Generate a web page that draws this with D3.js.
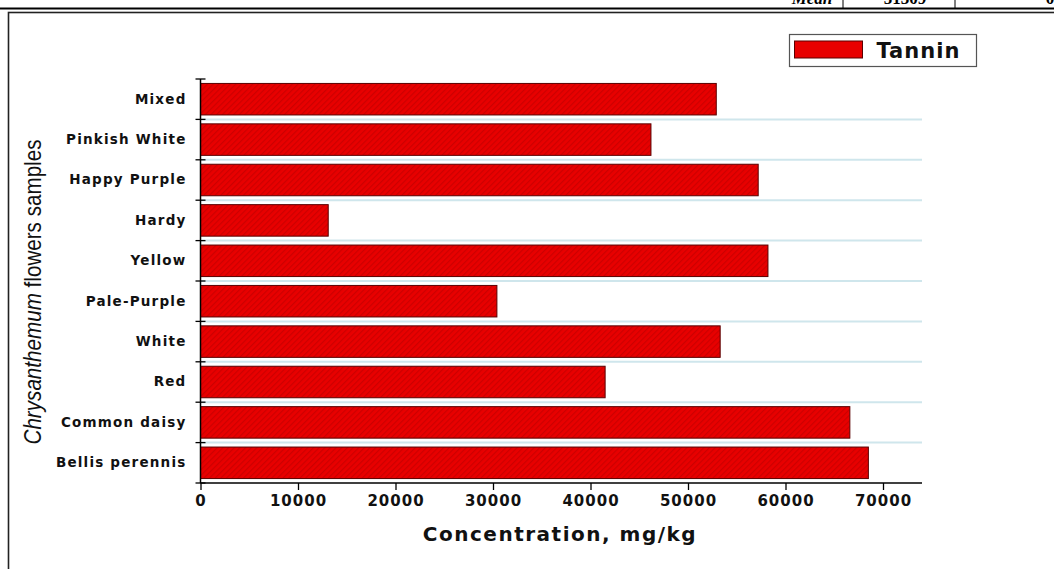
<!DOCTYPE html>
<html>
<head>
<meta charset="utf-8">
<script src="https://cdn.jsdelivr.net/npm/d3@7"></script>
<style>
  body { margin: 0; background: #fff; }
  svg { display: block; }
</style>
</head>
<body>
<div id="grafica"></div>
<script>
// datos
muestras = ['Mixed', 'Pinkish White', 'Happy Purple', 'Hardy', 'Yellow',
            'Pale-Purple', 'White', 'Red', 'Common daisy', 'Bellis perennis']
tanino   = [52900, 46200, 57200, 13100, 58200, 30400, 53300, 41500, 66600, 68500]
xTicks   = [0, 10000, 20000, 30000, 40000, 50000, 60000, 70000]
serie    = 'Tannin'

ancho_total = 1054
alto_total  = 569
margin = { left: 200.5, right: 132, top: 79, bottom: 86 }
ancho = ancho_total - margin.left - margin.right
alto  = alto_total - margin.top - margin.bottom

fuente = 'DejaVu Sans, Verdana, sans-serif'

svg = d3.select('#grafica')
  .append('svg')
  .attr('width', ancho_total)
  .attr('height', alto_total)

// relleno rayado de las barras
defs = svg.append('defs')
pat = defs.append('pattern')
  .attr('id', 'rayas')
  .attr('patternUnits', 'userSpaceOnUse')
  .attr('width', 4)
  .attr('height', 4)
  .attr('patternTransform', 'rotate(45)')
pat.append('rect').attr('width', 4).attr('height', 4).attr('fill', '#e80000')
pat.append('rect').attr('width', 1.2).attr('height', 4).attr('fill', '#cc0000')

// cabecera de la tabla de la pagina (cortada)
svg.append('line')
  .attr('x1', 0).attr('x2', ancho_total)
  .attr('y1', 8.5).attr('y2', 8.5)
  .attr('stroke', '#000').attr('stroke-width', 2)
;[843, 955].forEach((xx) => {
  svg.append('line')
    .attr('x1', xx).attr('x2', xx).attr('y1', 0).attr('y2', 8)
    .attr('stroke', '#000').attr('stroke-width', 1)
})
cab = [['Mean', 812, 'italic'], ['51309', 905, 'normal'], ['0', 1050, 'normal']]
cab.forEach((c) => {
  svg.append('text')
    .attr('x', c[1]).attr('y', 4)
    .attr('text-anchor', 'middle')
    .attr('font-family', 'Liberation Serif, serif')
    .attr('font-weight', 'bold')
    .attr('font-style', c[2])
    .attr('font-size', '17px')
    .text(c[0])
})

// marco de la figura
svg.append('rect')
  .attr('x', 8.5).attr('y', 12.5)
  .attr('width', 1100).attr('height', 600)
  .attr('fill', 'none')
  .attr('stroke', '#222').attr('stroke-width', 1.6)

g = svg.append('g')
  .attr('transform', `translate(${margin.left}, ${margin.top})`)

x = d3.scaleLinear().domain([0, 74000]).range([0, ancho])
y = d3.scaleBand().domain(muestras).range([0, alto]).paddingInner(0.22).paddingOuter(0.11)

// lineas guia entre categorias
fronteras = d3.range(1, muestras.length)
g.selectAll('.guia')
  .data(fronteras)
  .enter()
  .append('line')
  .attr('x1', 0).attr('x2', ancho)
  .attr('y1', (d) => d * y.step()).attr('y2', (d) => d * y.step())
  .attr('stroke', '#cfe6ec').attr('stroke-width', 2)

// barras
g.selectAll('.barra')
  .data(muestras)
  .enter()
  .append('rect')
  .attr('x', 0)
  .attr('y', (d) => y(d))
  .attr('width', (d, i) => x(tanino[i]))
  .attr('height', y.bandwidth())
  .attr('fill', 'url(#rayas)')
  .attr('stroke', '#5a0000')
  .attr('stroke-width', 1)

// eje X
xGroup = g.append('g').attr('transform', `translate(0, ${alto})`)
xGroup.call(d3.axisBottom(x).tickValues(d3.range(0, 74000, 2000)).tickSize(3).tickFormat(''))
xGroup.call(d3.axisBottom(x).tickValues(xTicks).tickSize(7).tickPadding(5).tickFormat(d3.format('d')))
xGroup.selectAll('.domain').remove()
xGroup.append('line')
  .attr('x1', 0).attr('x2', ancho).attr('y1', 0).attr('y2', 0)
  .attr('stroke', '#000').attr('stroke-width', 1.5)
xGroup.selectAll('.tick line').attr('stroke-width', 1.3)
xGroup.selectAll('text')
  .attr('fill', '#111')
  .attr('font-family', fuente)
  .attr('font-weight', 'bold')
  .attr('font-size', '15px')
  .style('letter-spacing', '1px')

// eje Y
yGroup = g.append('g')
yGroup.call(d3.axisLeft(y).tickSize(0).tickPadding(14))
yGroup.selectAll('.domain').remove()
yGroup.append('line')
  .attr('x1', 0).attr('x2', 0).attr('y1', 0).attr('y2', alto)
  .attr('stroke', '#000').attr('stroke-width', 1.5)
yGroup.selectAll('.frontera')
  .data(d3.range(0, muestras.length + 1))
  .enter()
  .append('line')
  .attr('x1', -5).attr('x2', 5)
  .attr('y1', (d) => d * y.step()).attr('y2', (d) => d * y.step())
  .attr('stroke', '#000').attr('stroke-width', 1.3)
yGroup.selectAll('text')
  .attr('fill', '#111')
  .attr('font-family', fuente)
  .attr('font-weight', 'bold')
  .attr('font-size', '13.5px')
  .style('letter-spacing', '1.2px')

// titulos de ejes
svg.append('text')
  .attr('x', 560).attr('y', 541)
  .attr('text-anchor', 'middle')
  .attr('font-family', fuente)
  .attr('font-weight', 'bold')
  .attr('font-size', '20px')
  .attr('fill', '#111')
  .style('letter-spacing', '1.5px')
  .text('Concentration, mg/kg')

yTitulo = svg.append('text')
  .attr('transform', 'translate(41, 292) rotate(-90)')
  .attr('text-anchor', 'middle')
  .attr('font-family', 'Liberation Sans, Arial, sans-serif')
  .attr('font-size', '24px')
  .attr('fill', '#111')
  .attr('textLength', 305)
  .attr('lengthAdjust', 'spacingAndGlyphs')
yTitulo.append('tspan').attr('font-style', 'italic').text('Chrysanthemum')
yTitulo.append('tspan').text(' flowers samples')

// leyenda
leyenda = svg.append('g').attr('transform', 'translate(789.5, 34.5)')
leyenda.append('rect')
  .attr('width', 187).attr('height', 32)
  .attr('fill', '#fff').attr('stroke', '#555').attr('stroke-width', 1.2)
leyenda.append('rect')
  .attr('x', 5).attr('y', 6.5).attr('width', 68).attr('height', 17)
  .attr('fill', '#e80000').attr('stroke', '#5a0000')
leyenda.append('text')
  .attr('x', 87).attr('y', 23)
  .attr('font-family', fuente)
  .attr('font-weight', 'bold')
  .attr('font-size', '21px')
  .attr('fill', '#111')
  .style('letter-spacing', '1px')
  .text(serie)
</script>
</body>
</html>
